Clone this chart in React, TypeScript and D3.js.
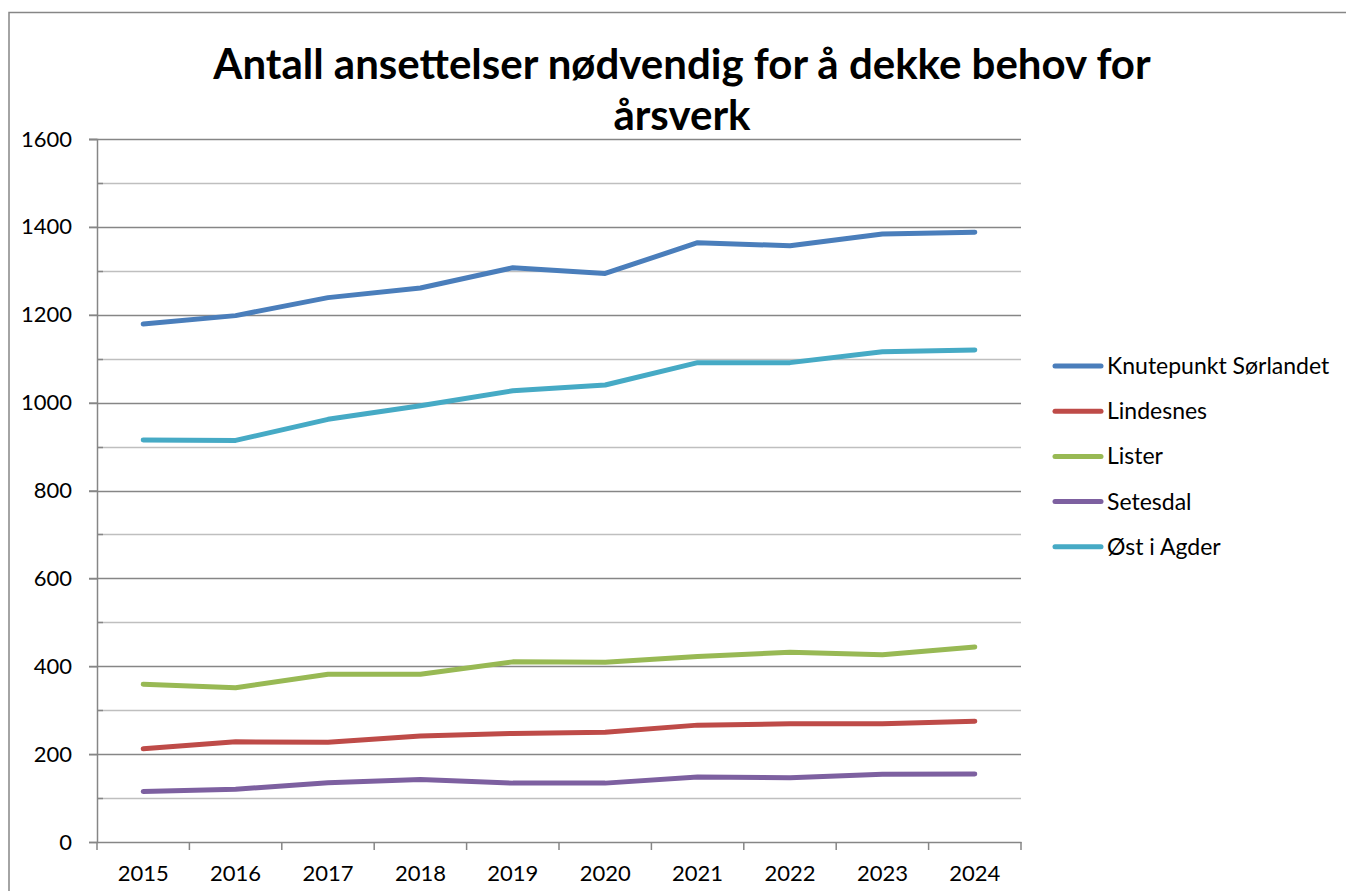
import React, { useEffect, useRef } from 'react';
import * as d3 from 'd3';

const years = ['2015', '2016', '2017', '2018', '2019', '2020', '2021', '2022', '2023', '2024'];

const knutepunkt = [1179, 1198, 1239, 1261, 1307, 1294, 1364, 1357, 1384, 1388];
const lindesnes = [212, 228, 227, 241, 247, 250, 266, 269, 269, 275];
const lister = [359, 351, 382, 382, 410, 409, 422, 432, 426, 444];
const setesdal = [115, 120, 135, 142, 134, 134, 148, 146, 154, 155];
const ostIAgder = [915, 914, 962, 993, 1027, 1040, 1091, 1091, 1116, 1120];

const seriesNames = ['Knutepunkt Sørlandet', 'Lindesnes', 'Lister', 'Setesdal', 'Øst i Agder'];
const seriesValues = [knutepunkt, lindesnes, lister, setesdal, ostIAgder];
const seriesColors = ['#4a7ebb', '#be4b48', '#98b954', '#7d60a0', '#46aac5'];

const yMajorTicks = [0, 200, 400, 600, 800, 1000, 1200, 1400, 1600];
const yMinorTicks = [100, 300, 500, 700, 900, 1100, 1300, 1500];

const titleLines = ['Antall ansettelser nødvendig for å dekke behov for', 'årsverk'];

const FONT = 'Lato, "Open Sans", sans-serif';

export default function App() {
  const svgRef = useRef<SVGSVGElement>(null);

  useEffect(() => {
    if (!svgRef.current) return;
    const svg = d3.select(svgRef.current);
    svg.selectAll('*').remove();

    const width = 1346;
    const height = 891;
    const plot = { left: 97, right: 1021, top: 139, bottom: 842 };

    svg.append('rect')
      .attr('width', width)
      .attr('height', height)
      .attr('fill', '#fff');

    // outer chart border
    svg.append('rect')
      .attr('x', 9)
      .attr('y', 12.5)
      .attr('width', 1345)
      .attr('height', 900)
      .attr('fill', 'none')
      .attr('stroke', '#868686')
      .attr('stroke-width', 1.5);

    const x = d3.scaleBand<string>()
      .domain(years)
      .range([plot.left, plot.right]);

    const y = d3.scaleLinear()
      .domain([0, 1600])
      .range([plot.bottom, plot.top]);

    // minor gridlines
    svg.append('g')
      .selectAll('line')
      .data(yMinorTicks)
      .join('line')
      .attr('x1', plot.left)
      .attr('x2', plot.right)
      .attr('y1', d => Math.round(y(d)) + 0.5)
      .attr('y2', d => Math.round(y(d)) + 0.5)
      .attr('stroke', '#bfbfbf')
      .attr('stroke-width', 1.5);

    // minor ticks (inside)
    svg.append('g')
      .selectAll('line')
      .data(yMinorTicks)
      .join('line')
      .attr('x1', plot.left)
      .attr('x2', plot.left + 6)
      .attr('y1', d => Math.round(y(d)) + 0.5)
      .attr('y2', d => Math.round(y(d)) + 0.5)
      .attr('stroke', '#868686')
      .attr('stroke-width', 1.5);

    // major gridlines
    svg.append('g')
      .selectAll('line')
      .data(yMajorTicks.filter(d => d > 0))
      .join('line')
      .attr('x1', plot.left - 8)
      .attr('x2', plot.right)
      .attr('y1', d => Math.round(y(d)) + 0.5)
      .attr('y2', d => Math.round(y(d)) + 0.5)
      .attr('stroke', '#868686')
      .attr('stroke-width', 1.5);

    // y axis
    const yAxis = svg.append('g')
      .attr('transform', `translate(${plot.left},0)`)
      .call(d3.axisLeft(y).tickValues(yMajorTicks).tickFormat(d3.format('d')).tickSize(8).tickPadding(17));
    yAxis.select('.domain').attr('stroke', '#868686').attr('stroke-width', 1.5);
    yAxis.selectAll('.tick line').attr('stroke', '#868686').attr('stroke-width', 1.5);
    yAxis.selectAll('.tick text')
      .attr('font-family', FONT)
      .attr('font-size', 22)
      .attr('fill', '#000');

    // x axis
    const xAxis = svg.append('g')
      .attr('transform', `translate(0,${plot.bottom})`)
      .call(d3.axisBottom(x).tickSize(0).tickPadding(23));
    xAxis.select('.domain').attr('stroke', '#868686').attr('stroke-width', 1.5);
    xAxis.selectAll('.tick text')
      .attr('font-family', FONT)
      .attr('font-size', 22)
      .attr('fill', '#000');

    // x ticks at band boundaries
    const boundaries = [...years.map(d => x(d) as number), plot.right];
    svg.append('g')
      .selectAll('line')
      .data(boundaries)
      .join('line')
      .attr('x1', d => d)
      .attr('x2', d => d)
      .attr('y1', plot.bottom)
      .attr('y2', plot.bottom + 8)
      .attr('stroke', '#868686')
      .attr('stroke-width', 1.5);

    // lines
    const line = d3.line<number>()
      .x((_, i) => (x(years[i]) as number) + x.bandwidth() / 2)
      .y(d => y(d));

    svg.append('g')
      .selectAll('path')
      .data(seriesValues)
      .join('path')
      .attr('d', d => line(d))
      .attr('fill', 'none')
      .attr('stroke', (_, i) => seriesColors[i])
      .attr('stroke-width', 5)
      .attr('stroke-linecap', 'round')
      .attr('stroke-linejoin', 'round');

    // title
    svg.append('g')
      .selectAll('text')
      .data(titleLines)
      .join('text')
      .attr('x', 682)
      .attr('y', (_, i) => 79 + i * 51)
      .attr('text-anchor', 'middle')
      .attr('font-family', FONT)
      .attr('font-weight', 'bold')
      .attr('font-size', 42)
      .attr('fill', '#000')
      .text(d => d);

    // legend
    const legend = svg.append('g')
      .selectAll('g')
      .data(seriesNames)
      .join('g')
      .attr('transform', (_, i) => `translate(1053,${366 + i * 45.2})`);
    legend.append('line')
      .attr('x1', 2)
      .attr('x2', 48)
      .attr('stroke', (_, i) => seriesColors[i])
      .attr('stroke-width', 5)
      .attr('stroke-linecap', 'round');
    legend.append('text')
      .attr('x', 54)
      .attr('dy', '0.35em')
      .attr('font-family', FONT)
      .attr('font-size', 23)
      .attr('fill', '#000')
      .text(d => d);
  }, []);

  return (
    <svg
      ref={svgRef}
      width={1346}
      height={891}
      style={{ position: 'absolute', left: 0, top: 0, display: 'block' }}
    />
  );
}
